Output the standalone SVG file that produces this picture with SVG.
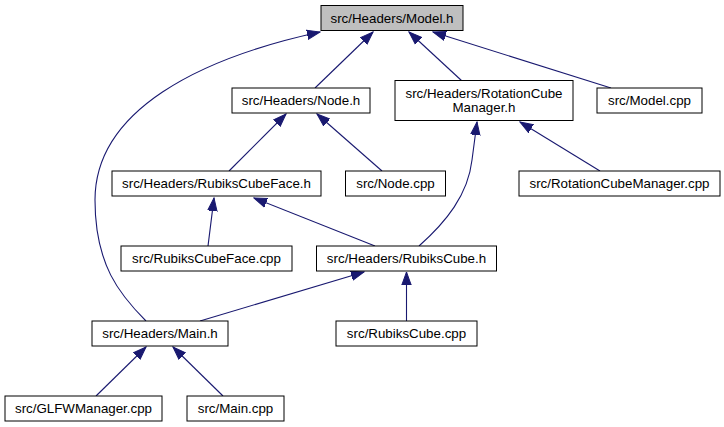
<svg xmlns="http://www.w3.org/2000/svg" width="724" height="427" viewBox="0 0 724 427">
<style>
.n rect{fill:#ffffff;stroke:#000000;stroke-width:1}
.n text{font-family:"Liberation Sans",Arial,Helvetica,sans-serif;font-size:13.33px;fill:#000000;text-anchor:middle}
#edges path{fill:none;stroke:#191970;stroke-width:1.1;marker-end:url(#ah)}
</style>
<defs>
<marker id="ah" markerUnits="userSpaceOnUse" markerWidth="14" markerHeight="12" viewBox="0 -6 14 12" refX="13" refY="0" orient="auto">
<path d="M0,-4.7 L13,0 L0,4.7 Z" fill="#191970" stroke="#191970" stroke-width="1"/>
</marker>
</defs>
<rect width="724" height="427" fill="#ffffff"/>
<g id="edges">
<path d="M315,88 L373,32"/>
<path d="M462,81 L409,32"/>
<path d="M611,88 L433,32"/>
<path d="M146,321 C120,295 95,265 95,200 C95,110 200,58 320,32"/>
<path d="M229,171 L286,114"/>
<path d="M382,171 L317,114"/>
<path d="M600,171 L520,122"/>
<path d="M419,246 C446,222 468,195 472,160 L477,122"/>
<path d="M208,246 L214,198"/>
<path d="M375,246 L254,198"/>
<path d="M200,321 L364,272"/>
<path d="M406.5,321 L406.5,272"/>
<path d="M96,396 L146,347"/>
<path d="M223,396 L173,347"/>
</g>
<g id="model_h" class="n"><rect x="321" y="5.5" width="142" height="25" style="fill:#bfbfbf"/><text x="392" y="22.5">src/Headers/Model.h</text></g>
<g id="node_h" class="n"><rect x="232" y="88" width="138" height="25"/><text x="301" y="105">src/Headers/Node.h</text></g>
<g id="rotationcubemanager_h" class="n"><rect x="395" y="80.5" width="178" height="40"/><text x="484" y="97.5">src/Headers/RotationCube</text><text x="484" y="112">Manager.h</text></g>
<g id="model_cpp" class="n"><rect x="597" y="88" width="105" height="25"/><text x="649.5" y="105">src/Model.cpp</text></g>
<g id="rubikscubeface_h" class="n"><rect x="112" y="171" width="209" height="25"/><text x="216.5" y="188">src/Headers/RubiksCubeFace.h</text></g>
<g id="node_cpp" class="n"><rect x="345.5" y="171" width="100" height="25"/><text x="395.5" y="188">src/Node.cpp</text></g>
<g id="rotationcubemanager_cpp" class="n"><rect x="519" y="171" width="201" height="25"/><text x="619.5" y="188">src/RotationCubeManager.cpp</text></g>
<g id="rubikscubeface_cpp" class="n"><rect x="121" y="246" width="171" height="25"/><text x="206.5" y="263">src/RubiksCubeFace.cpp</text></g>
<g id="rubikscube_h" class="n"><rect x="316.5" y="246" width="180" height="25"/><text x="406.5" y="263">src/Headers/RubiksCube.h</text></g>
<g id="main_h" class="n"><rect x="92" y="321" width="136" height="25"/><text x="160" y="338">src/Headers/Main.h</text></g>
<g id="rubikscube_cpp" class="n"><rect x="336" y="321" width="141" height="25"/><text x="406.5" y="338">src/RubiksCube.cpp</text></g>
<g id="glfwmanager_cpp" class="n"><rect x="5" y="396" width="157" height="25"/><text x="83.5" y="413">src/GLFWManager.cpp</text></g>
<g id="main_cpp" class="n"><rect x="187" y="396" width="97" height="25"/><text x="235.5" y="413">src/Main.cpp</text></g>
</svg>
